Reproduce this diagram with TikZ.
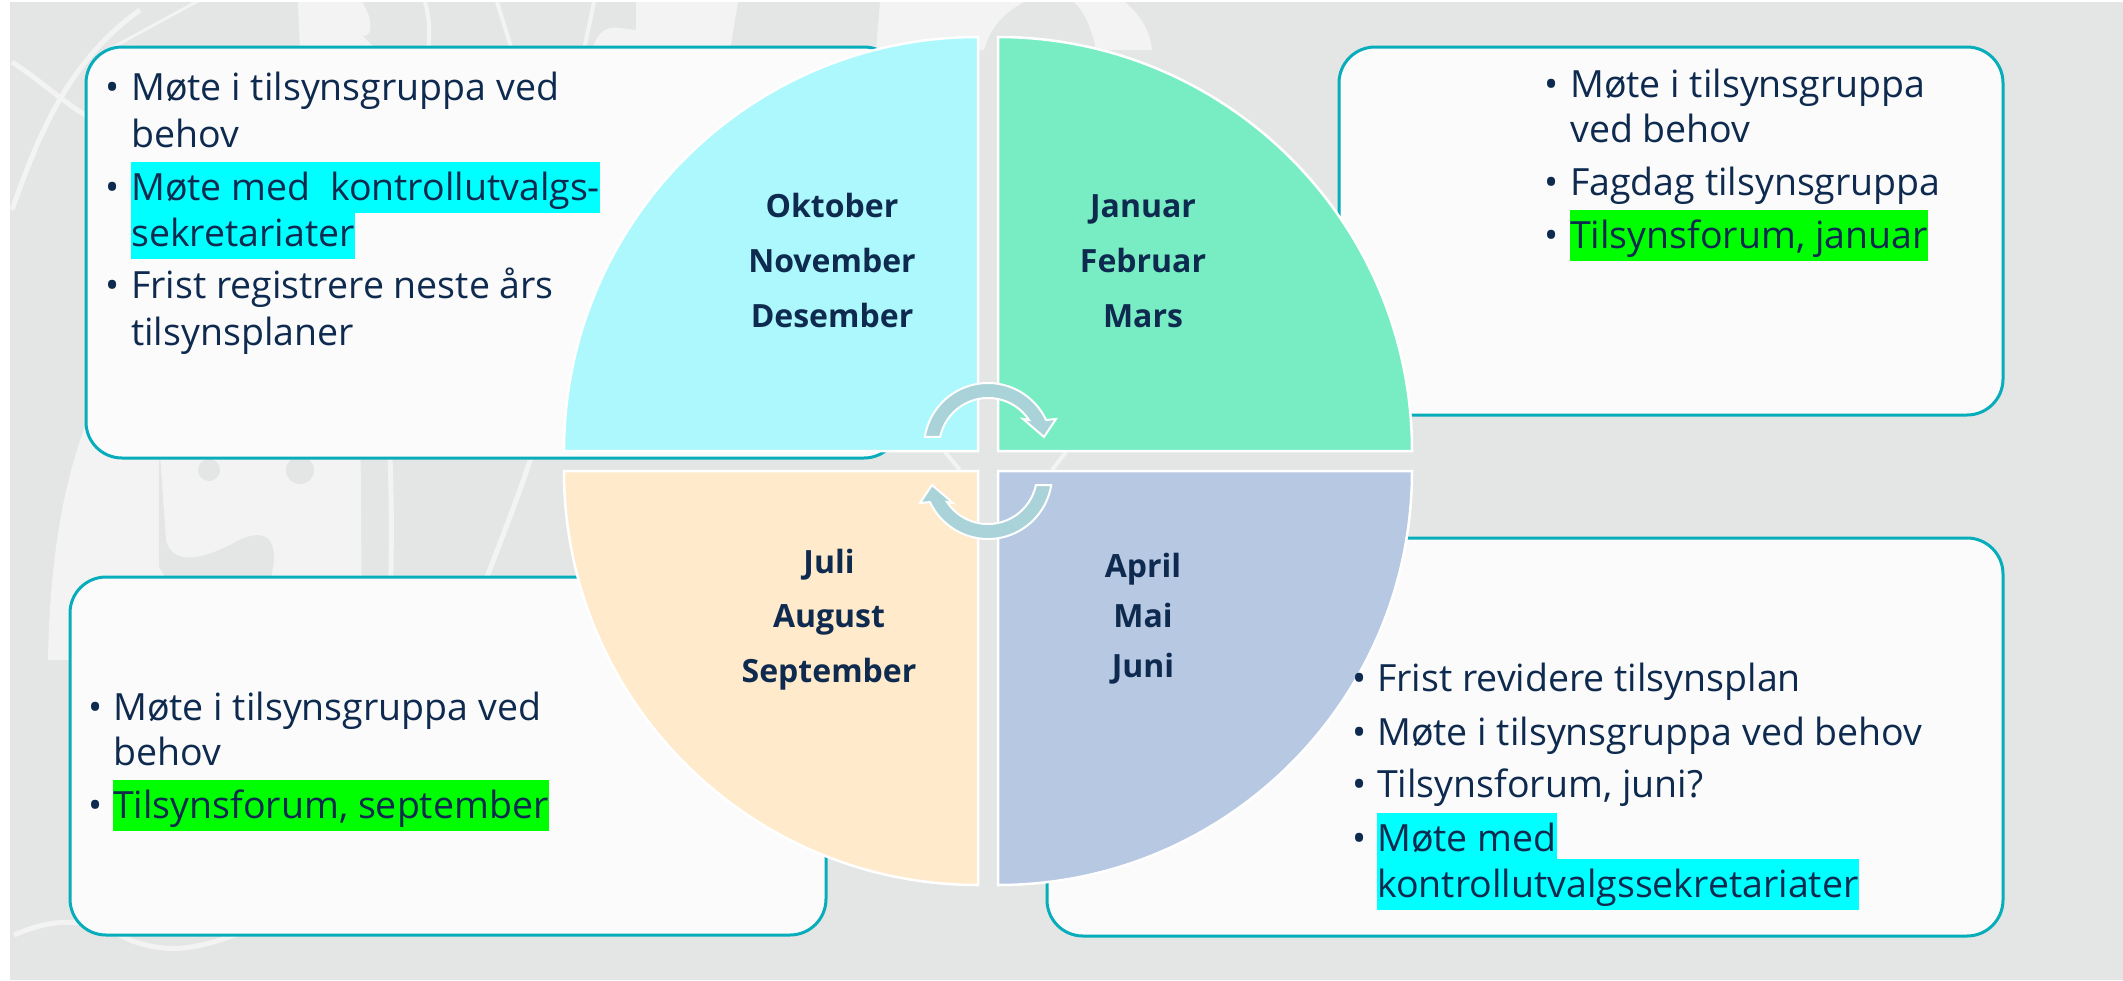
\documentclass[tikz,border=0pt]{standalone}
\usepackage{fontspec}
\setmainfont{Open Sans}
\definecolor{bg}{HTML}{E4E6E5}
\definecolor{deco}{HTML}{F2F3F2}
\definecolor{boxc}{HTML}{08ADBC}
\definecolor{boxfill}{HTML}{FBFBFB}
\definecolor{navy}{HTML}{0E2A4F}
\definecolor{qtl}{HTML}{ADF8FD}
\definecolor{qtr}{HTML}{78EDC3}
\definecolor{qbl}{HTML}{FFEACB}
\definecolor{qbr}{HTML}{B6C8E2}
\definecolor{arrc}{HTML}{A9D3D9}
\definecolor{hlc}{HTML}{00FFFF}
\definecolor{hlg}{HTML}{00FF00}
\begin{document}
\begin{tikzpicture}[x=1pt,y=-1pt,
  box/.style={draw=boxc,line width=3pt,fill=boxfill,rounded corners=36pt},
  quad/.style={draw=white,line width=2.5pt},
  arr/.style={fill=arrc,draw=white,line width=2pt,line join=miter},
  txt/.style={anchor=base west,inner sep=0pt,text=navy,font=\fontsize{37.5}{46}\selectfont},
  hl/.style={txt,text height=38pt,text depth=13pt},
  mon/.style={anchor=base,inner sep=0pt,text=navy,font=\fontsize{32}{40}\selectfont\bfseries},
  decoline/.style={draw=deco,line width=5pt}]
\useasboundingbox (0,0) rectangle (2123,980);
\fill[white] (0,0) rectangle (2123,980);
\fill[bg] (10,2) rectangle (2123,980);

% faint background watermark
\fill[deco] (48,660) .. controls (50,540) and (70,430) .. (120,360) -- (360,360) -- (362,660) -- cycle;
\fill[bg] (159,440) -- (166,540) .. controls (172,565) and (200,560) .. (230,545) .. controls (255,530) and (275,530) .. (274,560) -- (268,600) -- (159,600) -- cycle;
\fill[bg] (209,470) circle (11);
\fill[bg] (300,470) circle (14);
\draw[decoline] (117,420) .. controls (122,500) and (140,550) .. (172,590);
\draw[decoline] (388,420) .. controls (392,480) and (392,540) .. (390,620);
\draw[decoline] (543,420) .. controls (525,480) and (505,530) .. (482,590);
\draw[decoline] (12,62) .. controls (40,80) and (60,100) .. (90,118);
\draw[decoline] (12,210) .. controls (40,130) and (70,60) .. (140,10);
\draw[decoline] (14,935) .. controls (60,915) and (90,920) .. (130,940) .. controls (170,955) and (200,950) .. (260,925);
\fill[deco] (193,2) -- (199,2) -- (111,50) -- (105,50) -- cycle;
\fill[deco] (298,2) -- (362,2) .. controls (380,30) and (365,45) .. (358,30) .. controls (370,45) and (375,48) .. (380,50) -- (300,50) -- cycle;
\draw[deco,line width=4pt] (425,2) .. controls (430,20) and (430,35) .. (428,50);
\draw[deco,line width=4pt] (497,2) -- (512,50);
\draw[deco,line width=4pt] (594,2) -- (584,50);
\fill[deco] (636,2) -- (738,2) -- (730,50) -- (592,50) .. controls (596,35) and (605,25) .. (620,28) -- (636,30) -- cycle;
\fill[deco] (880,2) -- (1024,2) .. controls (1000,15) and (990,30) .. (984,50) -- (876,50) -- cycle;
\fill[deco] (1074,2) -- (1125,2) .. controls (1140,15) and (1150,30) .. (1152,50) -- (1096,50) .. controls (1092,30) and (1085,12) .. (1074,2) -- cycle;
\draw[deco,line width=4pt] (945,452) -- (960,470);
\draw[deco,line width=4pt] (1066,452) -- (1052,470);

% boxes
\draw[box] (86,47) rectangle (900,458);
\draw[box] (1339,47) rectangle (2003,415);
\draw[box] (70,577) rectangle (826,935);
\draw[box] (1047,538) rectangle (2003,936);

% quadrants
\filldraw[quad,fill=qtl] (978,451) -- ++(0,-414) arc[start angle=-90,end angle=-180,radius=414] -- cycle;
\filldraw[quad,fill=qtr] (998,451) -- ++(0,-414) arc[start angle=-90,end angle=0,radius=414] -- cycle;
\filldraw[quad,fill=qbl] (978,471) -- ++(-414,0) arc[start angle=180,end angle=90,radius=414] -- cycle;
\filldraw[quad,fill=qbr] (998,471) -- ++(414,0) arc[start angle=0,end angle=90,radius=414] -- cycle;

% circular arrows
\path[arr] (988,447) ++(-171:64) arc[start angle=-171,end angle=-25,radius=64] -- (1056,419) -- (1044,437) -- (1023,419) -- (1029,420) arc[start angle=-33.4,end angle=-168.2,radius=49] -- cycle;
\begin{scope}[rotate around={180:(988,461)}]
\path[arr] (988,447) ++(-171:64) arc[start angle=-171,end angle=-25,radius=64] -- (1056,419) -- (1044,437) -- (1023,419) -- (1029,420) arc[start angle=-33.4,end angle=-168.2,radius=49] -- cycle;
\end{scope}

% month labels
\node[mon] (okt) at (832,217) {Oktober};
\node[mon] (nov) at (832,272) {November};
\node[mon] (des) at (832,327) {Desember};
\node[mon] (jan) at (1143,217) {Januar};
\node[mon] (feb) at (1143,272) {Februar};
\node[mon] (mar) at (1143,327) {Mars};
\node[mon] (jul) at (829,573) {Juli};
\node[mon] (aug) at (829,627) {August};
\node[mon] (sep) at (829,682) {September};
\node[mon] (apr) at (1143,577) {April};
\node[mon] (mai) at (1143,627) {Mai};
\node[mon] (jun) at (1143,677) {Juni};

% top-left box text
\node[txt] (tlb1) at (105,100) {•};
\node[txt] (tlb2) at (105,200) {•};
\node[txt] (tlb3) at (105,298) {•};
\node[txt] (tl1) at (131,100) {Møte i tilsynsgruppa ved};
\node[txt] (tl2) at (131,147) {behov};
\node[hl,fill=hlc] (tl3) at (131,200) {Møte med\ \ kontrollutvalgs-};
\node[hl,fill=hlc] (tl4) at (131,246) {sekretariater};
\node[txt] (tl5) at (131,298) {Frist registrere neste års};
\node[txt] (tl6) at (131,345) {tilsynsplaner};

% top-right box text
\node[txt] (trb1) at (1544,97) {•};
\node[txt] (trb2) at (1544,195) {•};
\node[txt] (trb3) at (1544,248) {•};
\node[txt] (tr1) at (1570,97) {Møte i tilsynsgruppa};
\node[txt] (tr2) at (1570,142) {ved behov};
\node[txt] (tr3) at (1570,195) {Fagdag tilsynsgruppa};
\node[hl,fill=hlg] (tr4) at (1570,248) {Tilsynsforum, januar};

% bottom-left box text
\node[txt] (blb1) at (88,720) {•};
\node[txt] (blb2) at (88,818) {•};
\node[txt] (bl1) at (113,720) {Møte i tilsynsgruppa ved};
\node[txt] (bl2) at (113,765) {behov};
\node[hl,fill=hlg] (bl3) at (113,818) {Tilsynsforum, september};

% bottom-right box text
\node[txt] (brb1) at (1352,691) {•};
\node[txt] (brb2) at (1352,745) {•};
\node[txt] (brb3) at (1352,797) {•};
\node[txt] (brb4) at (1352,851) {•};
\node[txt] (br1) at (1377,691) {Frist revidere tilsynsplan};
\node[txt] (br2) at (1377,745) {Møte i tilsynsgruppa ved behov};
\node[txt] (br3) at (1377,797) {Tilsynsforum, juni?};
\node[hl,fill=hlc] (br4) at (1377,851) {Møte med\ };
\node[hl,fill=hlc] (br5) at (1377,897) {kontrollutvalgssekretariater};
\end{tikzpicture}
\end{document}
